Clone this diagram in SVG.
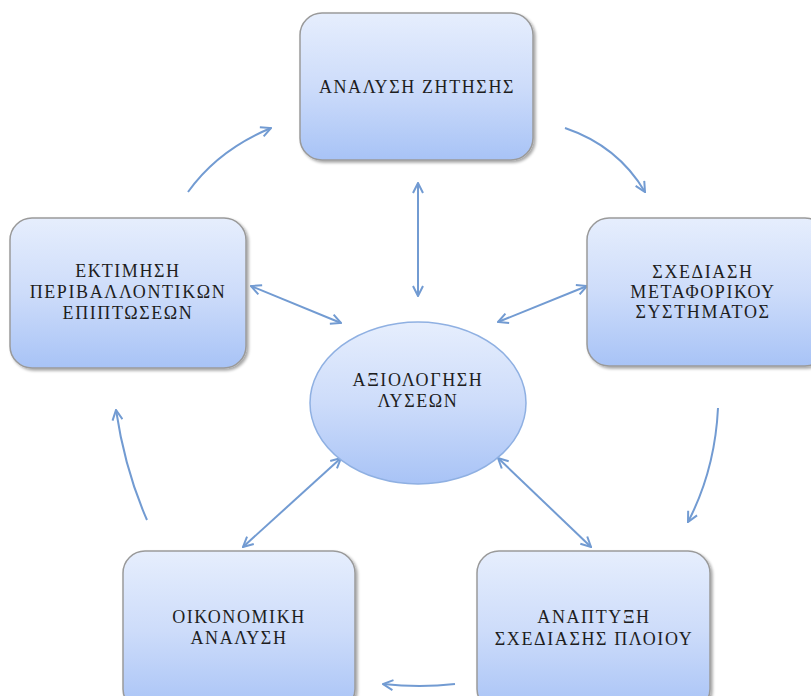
<svg xmlns="http://www.w3.org/2000/svg" width="811" height="696" viewBox="0 0 811 696">
<style>
.box{fill:url(#g);stroke:#9a9a9a;stroke-width:1.5;filter:url(#sh)}
.t{font-family:"Liberation Serif","DejaVu Serif",serif;font-size:18px;fill:#1e1e1e;text-anchor:middle;letter-spacing:1.6px}
.c{fill:none;stroke:#729bd2;stroke-width:2}
</style>
<defs>
<linearGradient id="g" x1="0" y1="0" x2="0" y2="1">
<stop offset="0" stop-color="#e6eefd"/>
<stop offset="0.5" stop-color="#cddcfa"/>
<stop offset="1" stop-color="#a8c3f6"/>
</linearGradient>
<filter id="sh" x="-10%" y="-10%" width="125%" height="125%">
<feGaussianBlur in="SourceAlpha" stdDeviation="1.5"/>
<feOffset dx="2" dy="2" result="b"/>
<feComponentTransfer><feFuncA type="linear" slope="0.35"/></feComponentTransfer>
<feMerge><feMergeNode/><feMergeNode in="SourceGraphic"/></feMerge>
</filter>
<marker id="a" viewBox="0 0 12 12" refX="11" refY="6" markerWidth="12" markerHeight="12" markerUnits="userSpaceOnUse" orient="auto-start-reverse">
<path d="M1,1 L11,6 L1,11" fill="none" stroke="#729bd2" stroke-width="2"/>
</marker>
</defs>
<g id="connectors">
<path class="c" d="M188,192 Q218,150 271,128" marker-end="url(#a)"/>
<path class="c" d="M565,128 Q618,146 645,192" marker-end="url(#a)"/>
<path class="c" d="M718,408 Q715,470 688,522" marker-end="url(#a)"/>
<path class="c" d="M455,684 Q420,688 383,684" marker-end="url(#a)"/>
<path class="c" d="M147,520 Q125,470 116,410" marker-end="url(#a)"/>
<path class="c" d="M418,183 L418,296" marker-start="url(#a)" marker-end="url(#a)"/>
<path class="c" d="M498,322 L587,286" marker-start="url(#a)" marker-end="url(#a)"/>
<path class="c" d="M251,286 L341,323" marker-start="url(#a)" marker-end="url(#a)"/>
<path class="c" d="M341,458 L243,547" marker-start="url(#a)" marker-end="url(#a)"/>
<path class="c" d="M498,458 L591,547" marker-start="url(#a)" marker-end="url(#a)"/>
</g>
<g id="demand">
<rect class="box" x="300" y="13" width="233" height="147" rx="22"/>
<text class="t" x="417" y="93">ΑΝΑΛΥΣΗ ΖΗΤΗΣΗΣ</text>
</g>
<g id="transport">
<rect class="box" x="587" y="218" width="240" height="148" rx="22"/>
<text class="t" x="703" y="278">ΣΧΕΔΙΑΣΗ</text>
<text class="t" x="703" y="298">ΜΕΤΑΦΟΡΙΚΟΥ</text>
<text class="t" x="703" y="318">ΣΥΣΤΗΜΑΤΟΣ</text>
</g>
<g id="environment">
<rect class="box" x="10" y="218" width="236" height="150" rx="22"/>
<text class="t" x="128" y="277">ΕΚΤΙΜΗΣΗ</text>
<text class="t" x="128" y="298">ΠΕΡΙΒΑΛΛΟΝΤΙΚΩΝ</text>
<text class="t" x="128" y="319">ΕΠΙΠΤΩΣΕΩΝ</text>
</g>
<g id="evaluation">
<ellipse cx="418" cy="403" rx="108" ry="81" fill="url(#g)" stroke="#8fb0e2" stroke-width="1.5"/>
<text class="t" x="418" y="386">ΑΞΙΟΛΟΓΗΣΗ</text>
<text class="t" x="418" y="407">ΛΥΣΕΩΝ</text>
</g>
<g id="economic">
<rect class="box" x="123" y="551" width="232" height="160" rx="22"/>
<text class="t" x="239" y="623">ΟΙΚΟΝΟΜΙΚΗ</text>
<text class="t" x="239" y="644">ΑΝΑΛΥΣΗ</text>
</g>
<g id="ship">
<rect class="box" x="477" y="551" width="233" height="160" rx="22"/>
<text class="t" x="594" y="623">ΑΝΑΠΤΥΞΗ</text>
<text class="t" x="594" y="645">ΣΧΕΔΙΑΣΗΣ ΠΛΟΙΟΥ</text>
</g>
</svg>
